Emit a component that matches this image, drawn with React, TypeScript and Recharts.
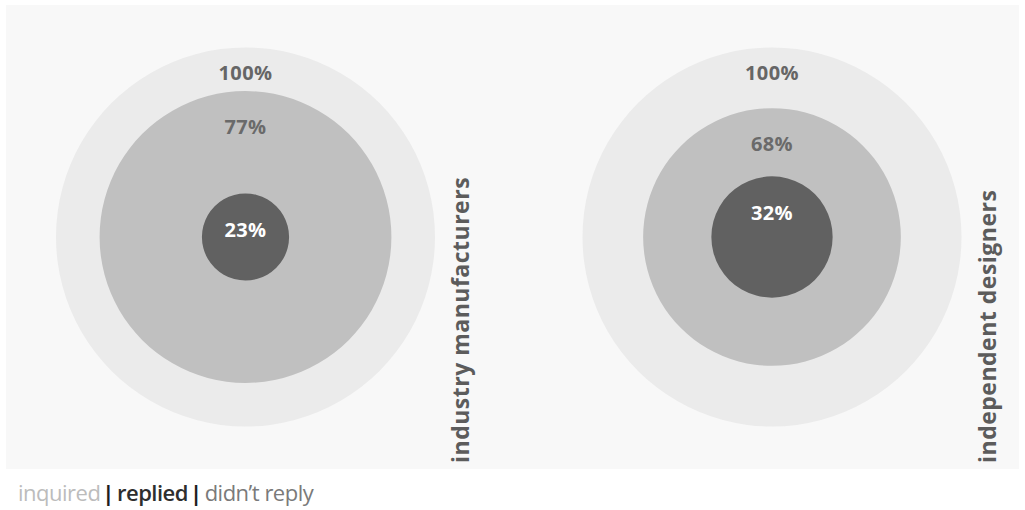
import React from "react";
import { PieChart, Pie, Cell } from "recharts";

const groups = ["industry manufacturers", "independent designers"];
const rings = ["inquired", "replied", "didn't reply"];
const manufacturers = [100, 77, 23];
const designers = [100, 68, 32];

const ringColors = ["#ebebeb", "#c0c0c0", "#616161"];
const labelColors = ["#666666", "#6a6a6a", "#ffffff"];
const legendColors = ["#bcbcbc", "#2e2e2e", "#7a7a7a"];

const W = 1025;
const H = 510;
const MAX_R = 189.5;
const CY = 237;
const centersX = [245.5, 772];
const labelOffset = [25, 35, 36];

const font = "'Open Sans', sans-serif";

function ringLabel(text: string, ring: number) {
  return (props: any) => {
    const { cx, cy, outerRadius } = props;
    return (
      <text
        x={cx}
        y={cy - outerRadius + labelOffset[ring]}
        textAnchor="middle"
        dominantBaseline="central"
        fill={labelColors[ring]}
        fontFamily={font}
        fontWeight={700}
        fontSize={20}
        letterSpacing={0.4}
      >
        {text}
      </text>
    );
  };
}

const pipe: React.CSSProperties = { color: "#1e1e1e", fontWeight: 700, margin: "0 3px 0 2px" };

export default function App() {
  const series = [manufacturers, designers];
  const vx = [469, 996];
  return (
    <div style={{ position: "absolute", left: 0, top: 0, width: W, height: H, background: "#ffffff" }}>
      <div style={{ position: "absolute", left: 6, top: 5, width: 1013, height: 464, background: "#f8f8f8" }} />
      <div style={{ position: "absolute", left: 0, top: 0 }}>
        <PieChart width={W} height={H} margin={{ top: 0, right: 0, bottom: 0, left: 0 }}>
          {series.map((vals, g) =>
            vals.map((v, r) => (
              <Pie
                key={`${g}-${r}`}
                data={[{ name: rings[r], value: 1 }]}
                dataKey="value"
                cx={centersX[g]}
                cy={CY}
                innerRadius={0}
                outerRadius={(v / 100) * MAX_R}
                startAngle={90}
                endAngle={-270}
                stroke="none"
                isAnimationActive={false}
                labelLine={false}
                label={ringLabel(`${v}%`, r)}
              >
                <Cell fill={ringColors[r]} />
              </Pie>
            ))
          )}
          {groups.map((name, g) => (
            <text
              key={name}
              x={vx[g]}
              y={463}
              transform={`rotate(-90, ${vx[g]}, 463)`}
              textAnchor="start"
              fill="#5c5c5c"
              fontFamily={font}
              fontWeight={700}
              fontSize={23}
              letterSpacing={0.5}
            >
              {name}
            </text>
          ))}
        </PieChart>
      </div>
      <div
        style={{
          position: "absolute",
          left: 18,
          top: 481,
          fontFamily: font,
          fontSize: 22,
          lineHeight: 1,
          whiteSpace: "nowrap",
          letterSpacing: -0.5,
        }}
      >
        <span style={{ color: legendColors[0], fontWeight: 500 }}>{rings[0]}</span>
        <span style={pipe}>|</span>
        <span style={{ color: legendColors[1], fontWeight: 600 }}>{rings[1]}</span>
        <span style={pipe}>|</span>
        <span style={{ color: legendColors[2], fontWeight: 500 }}>{"didn\u2019t reply"}</span>
      </div>
    </div>
  );
}
